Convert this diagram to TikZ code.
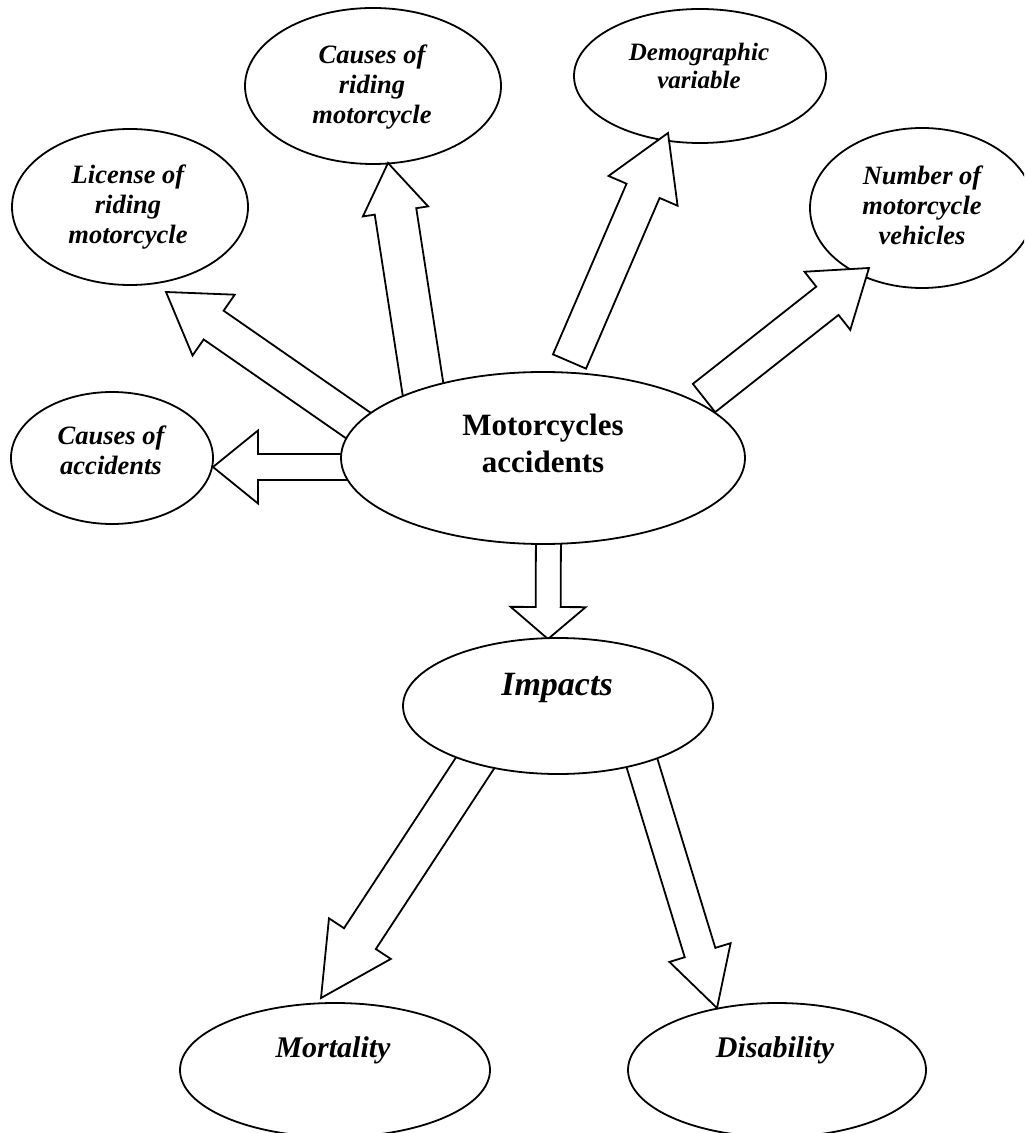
\documentclass[tikz,border=0pt]{standalone}
\usepackage{fontspec}
\setmainfont{Liberation Serif}
\usetikzlibrary{shapes.geometric,calc}
\tikzset{
  oval/.style={ellipse, draw, line width=0.9pt, fill=white, inner sep=0pt},
  lbl/.style={font=\fontsize{13.25}{15}\selectfont\bfseries\itshape, align=center, inner sep=0pt},
  blockarrow/.style={draw, line width=0.9pt, fill=white, line join=miter},
}
\newcommand{\barrow}[5]{%
  \pgfmathsetlengthmacro{\bsw}{#3*0.5pt}%
  \pgfmathsetlengthmacro{\bhw}{#4*0.5pt}%
  \pgfmathsetlengthmacro{\bhl}{#5*0.5pt}%
  \coordinate (#1h) at ($(#2)!\bhl!(#1)$);
  \draw[blockarrow] ($(#1)!\bsw!90:(#2)$) -- ($(#1h)!\bsw!90:(#2)$) -- ($(#1h)!\bhw!90:(#2)$) -- (#2) -- ($(#1h)!\bhw!-90:(#2)$) -- ($(#1h)!\bsw!-90:(#2)$) -- ($(#1)!\bsw!-90:(#2)$) -- cycle;
}
\begin{document}
\begin{tikzpicture}[x=0.5pt,y=-0.5pt]
\clip (0,0) rectangle (1024,1133);
\fill[white] (0,0) rectangle (1024,1133);
% leaf ellipses
\node[oval, minimum width=128pt, minimum height=78pt] (cr) at (373,86) {};
\node[lbl] (crT) at (372,87) {Causes of\\riding\\motorcycle};
\node[oval, minimum width=126pt, minimum height=67pt] (dv) at (700,76) {};
\node[lbl, font=\fontsize{12.5}{14}\selectfont\bfseries\itshape] (dvT) at (699,66) {Demographic\\variable};
\node[oval, minimum width=118pt, minimum height=78pt] (lic) at (130,207) {};
\node[lbl] (licT) at (128,207) {License of\\riding\\motorcycle};
\node[oval, minimum width=112pt, minimum height=80pt] (num) at (922,208) {};
\node[lbl] (numT) at (922,205) {Number of\\motorcycle\\vehicles};
\node[oval, minimum width=101pt, minimum height=66pt] (ca) at (112,458) {};
\node[lbl] (caT) at (111,450) {Causes of\\accidents};
\node[oval, minimum width=155pt, minimum height=67pt] (mor) at (335,1070) {};
\node[lbl, font=\fontsize{15}{18}\selectfont\bfseries\itshape] (morT) at (333,1050) {Mortality};
\node[oval, minimum width=149pt, minimum height=67pt] (dis) at (777,1070) {};
\node[lbl, font=\fontsize{15}{18}\selectfont\bfseries\itshape] (disT) at (775,1050) {Disability};
% arrow end points
\coordinate (aa) at (362,467);   \coordinate (at) at (213,467);
\coordinate (ba) at (374,436.4); \coordinate (bt) at (166,292);
\coordinate (ca1) at (426.8,413.7); \coordinate (ct) at (388,163);
\coordinate (da) at (569.5,361.5); \coordinate (dt) at (668,133);
\coordinate (ea) at (704,398);   \coordinate (et) at (869,268);
\coordinate (fa) at (548.5,525); \coordinate (ft) at (548,639);
\coordinate (ga) at (486,746.3); \coordinate (gt) at (321,998);
\coordinate (ha) at (636.1,743.9); \coordinate (hT) at (717,1008);
\barrow{aa}{at}{13}{36.5}{45}
\barrow{ba}{bt}{17.5}{37}{58}
\barrow{ca1}{ct}{21}{33}{49}
\barrow{da}{dt}{18}{37.6}{63}
\barrow{ea}{et}{18}{37}{53}
\barrow{fa}{ft}{12.5}{37.5}{32}
\barrow{ga}{gt}{19}{37}{71}
\barrow{ha}{hT}{16}{32}{58}
% source ellipses
\node[oval, minimum width=202pt, minimum height=86pt] (mc) at (543,458) {};
\node[lbl, font=\fontsize{15.5}{18.5}\selectfont\bfseries] (mcT) at (543,443) {Motorcycles\\accidents};
\node[oval, minimum width=155pt, minimum height=68pt] (imp) at (558,706) {};
\node[lbl, font=\fontsize{17}{20}\selectfont\bfseries\itshape] (impT) at (557,688) {Impacts};
\end{tikzpicture}
\end{document}
